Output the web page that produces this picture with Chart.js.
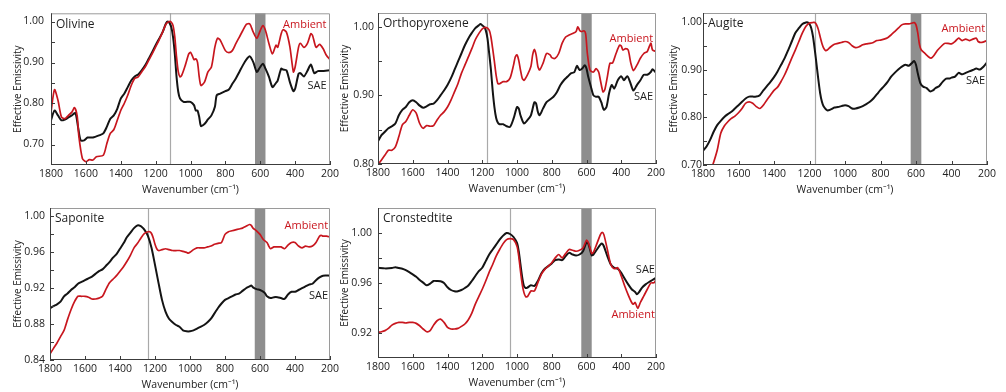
<!DOCTYPE html>
<html>
<head>
<meta charset="utf-8">
<script src="https://cdn.jsdelivr.net/npm/chart.js@4.4.1/dist/chart.umd.min.js"></script>
<style>
  html, body { margin: 0; padding: 0; background: #fff; }
  body { width: 1006px; height: 392px; position: relative; overflow: hidden; }
  .panel { position: absolute; }
</style>
</head>
<body>
<script>
// x axis (wavenumber, cm-1)
const wavenumberTicks = [1800, 1600, 1400, 1200, 1000, 800, 600, 400, 200];
const bandRange = [630, 570];

// y axis ticks
const olivineTicks = [0.70, 0.80, 0.90, 1.00];
const olivineMinor = [0.75, 0.85, 0.95];
const orthoTicks = [0.80, 0.90, 1.00];
const orthoMinor = [0.85, 0.95];
const augiteTicks = [0.70, 0.80, 0.90, 1.00];
const augiteMinor = [0.75, 0.85, 0.95];
const saponiteTicks = [0.84, 0.88, 0.92, 0.96, 1.00];
const saponiteMinor = [0.86, 0.90, 0.94, 0.98];
const cronstTicks = [0.92, 0.96, 1.00];
const cronstMinor = [0.94, 0.98];

// [wavenumber, effective emissivity]
const olivineAmbient = [[1800,0.779],[1780,0.834],[1760,0.808],[1740,0.767],[1720,0.763],[1700,0.771],[1680,0.779],[1665,0.79],[1650,0.77],[1640,0.719],[1620,0.666],[1600,0.658],[1580,0.663],[1560,0.662],[1540,0.67],[1500,0.674],[1480,0.702],[1460,0.727],[1440,0.736],[1420,0.759],[1400,0.783],[1380,0.8],[1360,0.82],[1340,0.844],[1320,0.861],[1300,0.865],[1280,0.877],[1260,0.889],[1240,0.905],[1220,0.921],[1200,0.938],[1180,0.955],[1160,0.974],[1140,0.994],[1120,1.0],[1110,0.998],[1100,0.99],[1090,0.962],[1080,0.913],[1070,0.877],[1060,0.865],[1050,0.869],[1030,0.893],[1010,0.921],[1000,0.925],[990,0.917],[980,0.907],[970,0.909],[960,0.901],[950,0.865],[940,0.844],[920,0.852],[900,0.877],[880,0.889],[860,0.938],[845,0.959],[830,0.955],[800,0.929],[780,0.924],[760,0.929],[740,0.946],[720,0.962],[700,0.978],[680,0.993],[660,0.994],[640,0.974],[620,0.959],[600,0.978],[585,0.99],[570,0.978],[550,0.946],[530,0.921],[510,0.942],[500,0.937],[480,0.97],[470,0.98],[450,0.974],[430,0.938],[410,0.877],[400,0.889],[380,0.938],[370,0.947],[350,0.937],[330,0.946],[310,0.97],[300,0.966],[280,0.937],[260,0.944],[240,0.934],[220,0.917],[200,0.907]];
const olivineSAE = [[1800,0.759],[1780,0.783],[1760,0.771],[1740,0.759],[1720,0.761],[1700,0.766],[1680,0.771],[1660,0.777],[1645,0.743],[1630,0.71],[1610,0.71],[1590,0.717],[1560,0.717],[1520,0.723],[1500,0.727],[1480,0.743],[1460,0.763],[1440,0.771],[1420,0.787],[1400,0.812],[1380,0.824],[1360,0.84],[1340,0.856],[1320,0.866],[1300,0.871],[1280,0.881],[1260,0.893],[1240,0.909],[1220,0.925],[1200,0.942],[1180,0.958],[1160,0.974],[1140,0.996],[1130,1.0],[1120,0.996],[1110,0.986],[1100,0.962],[1090,0.921],[1080,0.865],[1070,0.828],[1060,0.812],[1040,0.804],[1020,0.804],[1000,0.804],[980,0.796],[970,0.783],[960,0.783],[950,0.767],[940,0.745],[920,0.75],[900,0.761],[880,0.771],[860,0.792],[850,0.82],[830,0.824],[800,0.83],[780,0.834],[760,0.848],[740,0.861],[720,0.877],[700,0.893],[680,0.907],[660,0.915],[640,0.901],[620,0.877],[600,0.889],[585,0.897],[570,0.885],[550,0.865],[530,0.84],[510,0.85],[500,0.856],[480,0.885],[470,0.883],[450,0.881],[430,0.852],[410,0.83],[400,0.836],[380,0.873],[370,0.874],[350,0.866],[330,0.879],[310,0.895],[290,0.874],[270,0.879],[250,0.879],[200,0.881]];

const orthoAmbient = [[1800,0.799],[1780,0.806],[1760,0.813],[1740,0.82],[1720,0.82],[1700,0.825],[1680,0.84],[1660,0.857],[1640,0.862],[1620,0.871],[1600,0.879],[1580,0.874],[1560,0.859],[1540,0.852],[1520,0.856],[1500,0.855],[1480,0.856],[1460,0.864],[1440,0.871],[1420,0.876],[1400,0.883],[1380,0.893],[1360,0.905],[1340,0.917],[1320,0.932],[1300,0.944],[1280,0.956],[1260,0.968],[1240,0.981],[1220,0.99],[1200,0.997],[1180,0.999],[1160,0.995],[1150,0.985],[1140,0.968],[1130,0.949],[1120,0.929],[1110,0.917],[1100,0.917],[1080,0.92],[1060,0.92],[1040,0.925],[1020,0.944],[1010,0.956],[1000,0.959],[990,0.951],[980,0.937],[970,0.925],[960,0.922],[940,0.93],[920,0.942],[910,0.959],[900,0.967],[890,0.959],[880,0.942],[870,0.937],[850,0.947],[830,0.961],[810,0.959],[800,0.955],[780,0.954],[760,0.961],[740,0.976],[720,0.985],[700,0.988],[680,0.99],[660,0.993],[650,1.0],[640,0.995],[630,0.993],[615,0.994],[605,0.99],[595,0.961],[580,0.937],[560,0.934],[545,0.939],[530,0.934],[520,0.922],[505,0.905],[495,0.908],[480,0.927],[465,0.947],[450,0.947],[430,0.961],[410,0.973],[400,0.972],[390,0.966],[375,0.968],[360,0.966],[345,0.947],[330,0.936],[310,0.944],[290,0.954],[270,0.961],[250,0.964],[230,0.976],[220,0.966],[200,0.964]];
const orthoSAE = [[1800,0.833],[1780,0.842],[1760,0.847],[1740,0.852],[1720,0.855],[1700,0.859],[1680,0.871],[1660,0.879],[1640,0.883],[1620,0.89],[1600,0.893],[1580,0.89],[1560,0.885],[1540,0.882],[1520,0.884],[1500,0.887],[1480,0.888],[1460,0.893],[1440,0.9],[1420,0.907],[1400,0.915],[1380,0.925],[1360,0.937],[1340,0.949],[1320,0.961],[1300,0.973],[1280,0.983],[1260,0.991],[1240,0.998],[1220,1.002],[1210,1.004],[1200,1.002],[1190,1.0],[1180,0.995],[1170,0.983],[1160,0.961],[1150,0.937],[1140,0.907],[1130,0.883],[1120,0.867],[1110,0.86],[1100,0.858],[1080,0.858],[1060,0.855],[1040,0.854],[1020,0.866],[1000,0.883],[990,0.881],[980,0.871],[960,0.859],[940,0.864],[920,0.871],[900,0.89],[890,0.888],[880,0.876],[870,0.871],[850,0.881],[830,0.89],[810,0.894],[790,0.898],[770,0.905],[750,0.915],[730,0.922],[710,0.927],[690,0.932],[670,0.934],[655,0.943],[640,0.937],[625,0.939],[610,0.944],[600,0.939],[590,0.927],[575,0.913],[560,0.9],[545,0.898],[530,0.898],[515,0.89],[500,0.879],[485,0.883],[470,0.903],[455,0.915],[440,0.91],[420,0.922],[400,0.928],[385,0.922],[365,0.928],[350,0.92],[330,0.907],[310,0.915],[290,0.922],[270,0.93],[250,0.93],[230,0.934],[220,0.938],[200,0.933]];

const augiteAmbient = [[1765,0.68],[1745,0.70],[1720,0.731],[1700,0.767],[1680,0.782],[1660,0.791],[1640,0.798],[1620,0.803],[1600,0.81],[1580,0.819],[1560,0.83],[1540,0.833],[1520,0.83],[1500,0.823],[1480,0.819],[1460,0.826],[1440,0.837],[1420,0.847],[1400,0.857],[1380,0.864],[1360,0.876],[1340,0.89],[1320,0.907],[1300,0.925],[1280,0.942],[1260,0.96],[1240,0.978],[1220,0.992],[1200,0.999],[1180,1.0],[1170,1.0],[1160,0.995],[1150,0.985],[1140,0.97],[1130,0.956],[1120,0.946],[1110,0.941],[1100,0.942],[1080,0.949],[1060,0.954],[1040,0.956],[1020,0.958],[1000,0.96],[980,0.958],[960,0.951],[940,0.947],[920,0.949],[900,0.953],[880,0.955],[860,0.956],[840,0.958],[820,0.962],[800,0.963],[780,0.965],[760,0.968],[740,0.974],[720,0.981],[700,0.988],[680,0.995],[660,0.997],[640,0.997],[620,0.999],[610,1.0],[600,0.995],[590,0.978],[580,0.953],[570,0.942],[550,0.935],[530,0.928],[515,0.925],[500,0.93],[480,0.941],[460,0.949],[440,0.956],[420,0.956],[400,0.955],[380,0.96],[360,0.967],[340,0.962],[320,0.965],[300,0.962],[280,0.965],[260,0.967],[250,0.96],[230,0.958],[200,0.962]];
const augiteSAE = [[1800,0.73],[1780,0.739],[1760,0.753],[1740,0.77],[1720,0.784],[1700,0.793],[1680,0.801],[1660,0.807],[1640,0.812],[1620,0.819],[1600,0.826],[1580,0.833],[1560,0.84],[1540,0.844],[1520,0.844],[1500,0.844],[1480,0.847],[1460,0.857],[1440,0.866],[1420,0.875],[1400,0.885],[1380,0.897],[1360,0.911],[1340,0.925],[1320,0.942],[1300,0.96],[1280,0.978],[1260,0.988],[1240,0.997],[1220,1.0],[1210,1.0],[1200,0.997],[1190,0.988],[1180,0.97],[1170,0.942],[1160,0.911],[1150,0.879],[1140,0.851],[1130,0.833],[1120,0.823],[1100,0.815],[1080,0.817],[1060,0.821],[1040,0.822],[1020,0.824],[1000,0.826],[980,0.824],[960,0.819],[940,0.819],[920,0.821],[900,0.824],[880,0.828],[860,0.833],[840,0.84],[820,0.849],[800,0.858],[780,0.866],[760,0.875],[740,0.886],[720,0.894],[700,0.901],[680,0.907],[660,0.911],[640,0.909],[620,0.916],[610,0.919],[600,0.911],[590,0.893],[575,0.872],[560,0.865],[540,0.862],[520,0.855],[505,0.857],[490,0.862],[470,0.866],[450,0.875],[430,0.882],[410,0.882],[400,0.884],[380,0.886],[360,0.894],[340,0.891],[320,0.894],[300,0.897],[280,0.9],[260,0.903],[240,0.901],[220,0.907],[200,0.916]];

const saponiteAmbient = [[1800,0.8467],[1780,0.853],[1760,0.859],[1740,0.866],[1720,0.873],[1700,0.885],[1680,0.896],[1660,0.905],[1640,0.911],[1620,0.911],[1600,0.911],[1580,0.91],[1560,0.908],[1540,0.908],[1520,0.909],[1500,0.911],[1480,0.919],[1460,0.926],[1440,0.93],[1420,0.934],[1400,0.939],[1380,0.944],[1360,0.95],[1340,0.957],[1320,0.965],[1300,0.97],[1280,0.976],[1260,0.981],[1240,0.983],[1230,0.983],[1220,0.981],[1210,0.976],[1200,0.969],[1190,0.964],[1180,0.962],[1160,0.963],[1140,0.964],[1120,0.963],[1100,0.962],[1080,0.962],[1060,0.962],[1040,0.961],[1020,0.96],[1010,0.959],[1000,0.96],[980,0.963],[960,0.965],[940,0.965],[920,0.965],[900,0.966],[880,0.967],[860,0.969],[840,0.97],[820,0.971],[800,0.98],[780,0.983],[760,0.984],[740,0.985],[720,0.986],[700,0.987],[680,0.989],[660,0.991],[650,0.99],[640,0.987],[620,0.984],[600,0.98],[580,0.974],[560,0.971],[550,0.967],[540,0.964],[520,0.966],[500,0.966],[480,0.966],[460,0.964],[440,0.968],[420,0.971],[400,0.971],[380,0.967],[360,0.965],[340,0.967],[320,0.966],[300,0.967],[280,0.971],[260,0.978],[250,0.979],[240,0.978],[220,0.978],[200,0.977]];
const saponiteSAE = [[1800,0.8976],[1780,0.9],[1760,0.902],[1740,0.905],[1720,0.911],[1700,0.914],[1680,0.918],[1660,0.921],[1640,0.925],[1620,0.927],[1600,0.929],[1580,0.931],[1560,0.933],[1540,0.936],[1520,0.939],[1500,0.941],[1480,0.945],[1460,0.949],[1440,0.954],[1420,0.958],[1400,0.964],[1380,0.97],[1360,0.977],[1340,0.982],[1320,0.987],[1300,0.99],[1290,0.99],[1280,0.989],[1260,0.985],[1240,0.978],[1220,0.965],[1200,0.946],[1180,0.926],[1160,0.907],[1140,0.894],[1120,0.886],[1100,0.882],[1080,0.879],[1060,0.877],[1040,0.873],[1020,0.872],[1000,0.872],[980,0.873],[960,0.875],[940,0.877],[920,0.879],[900,0.882],[880,0.886],[860,0.892],[840,0.898],[820,0.903],[800,0.907],[780,0.909],[760,0.911],[740,0.913],[720,0.914],[700,0.917],[680,0.92],[660,0.922],[650,0.923],[640,0.921],[620,0.919],[600,0.918],[580,0.916],[570,0.914],[560,0.911],[540,0.909],[520,0.91],[500,0.91],[480,0.909],[460,0.908],[440,0.913],[420,0.916],[400,0.916],[380,0.918],[360,0.92],[340,0.922],[320,0.924],[300,0.925],[280,0.929],[260,0.932],[240,0.934],[200,0.934]];

const cronstAmbient = [[1800,0.9205],[1780,0.921],[1760,0.9219],[1740,0.9237],[1720,0.9263],[1700,0.9277],[1680,0.9285],[1660,0.9285],[1640,0.928],[1620,0.9285],[1600,0.9285],[1580,0.9277],[1560,0.9258],[1540,0.9232],[1520,0.921],[1500,0.9219],[1480,0.9263],[1460,0.9298],[1440,0.9311],[1420,0.9285],[1400,0.9245],[1380,0.9232],[1360,0.9232],[1340,0.9237],[1320,0.9253],[1300,0.9272],[1280,0.9306],[1260,0.9359],[1240,0.9431],[1220,0.9491],[1200,0.955],[1180,0.9616],[1160,0.9687],[1140,0.9748],[1120,0.9815],[1100,0.9868],[1080,0.9915],[1060,0.9947],[1040,0.9955],[1020,0.9947],[1000,0.9894],[990,0.9815],[980,0.9695],[970,0.959],[960,0.9523],[950,0.9491],[940,0.9491],[920,0.9536],[900,0.9536],[880,0.9603],[860,0.9669],[840,0.9709],[820,0.9735],[800,0.9762],[780,0.9801],[760,0.9828],[740,0.9801],[720,0.9836],[700,0.9868],[680,0.9862],[660,0.9854],[640,0.9862],[620,0.9881],[600,0.9942],[590,0.9926],[580,0.9881],[570,0.9836],[560,0.9846],[540,0.9915],[520,0.9987],[510,1.0005],[500,0.9987],[480,0.9868],[460,0.9748],[440,0.9714],[420,0.9722],[400,0.9656],[380,0.9576],[360,0.9505],[340,0.9444],[330,0.943],[320,0.9444],[305,0.9397],[290,0.9444],[270,0.9497],[250,0.955],[230,0.96],[210,0.9603],[200,0.9629]];
const cronstSAE = [[1800,0.9722],[1760,0.9717],[1720,0.972],[1700,0.9727],[1680,0.972],[1660,0.9714],[1640,0.9703],[1620,0.9687],[1600,0.9669],[1580,0.965],[1560,0.9624],[1540,0.9603],[1520,0.9582],[1500,0.9595],[1480,0.9616],[1460,0.9616],[1440,0.9614],[1420,0.96],[1400,0.9566],[1380,0.9544],[1360,0.9534],[1340,0.9534],[1320,0.9544],[1300,0.956],[1280,0.958],[1260,0.9616],[1240,0.9656],[1220,0.9695],[1200,0.9722],[1180,0.9775],[1160,0.9828],[1140,0.9868],[1120,0.9907],[1100,0.9947],[1080,0.9979],[1060,1.0],[1040,0.9992],[1020,0.9968],[1000,0.9921],[990,0.9854],[980,0.9748],[970,0.9645],[960,0.9576],[950,0.956],[940,0.9563],[920,0.9582],[900,0.9576],[880,0.9616],[860,0.9677],[840,0.9714],[820,0.9735],[800,0.9756],[780,0.9783],[760,0.9788],[740,0.9783],[720,0.9815],[700,0.9841],[680,0.9828],[660,0.982],[640,0.9828],[620,0.9854],[600,0.9926],[590,0.9915],[580,0.9868],[570,0.982],[560,0.9828],[540,0.9868],[520,0.9907],[510,0.9915],[500,0.9894],[480,0.9815],[460,0.9748],[440,0.9722],[420,0.9714],[400,0.9682],[380,0.9634],[360,0.9589],[340,0.955],[320,0.9528],[310,0.951],[300,0.9523],[280,0.9563],[260,0.9589],[240,0.9608],[220,0.9624],[200,0.9642]];

const RED = '#c8161e';
const BLACK = '#141414';
const FONT = '"Open Sans", "Noto Sans", sans-serif';

Chart.defaults.font.family = FONT;
Chart.defaults.color = '#222';
Chart.defaults.animation = false;

// plot area in page pixels: left, top, width, height
const panels = [
  { name: 'Olivine', plot: [51, 13, 279, 152], yMin: 0.65, yMax: 1.02, ticks: olivineTicks, minor: olivineMinor,
    line: 1117, amb: olivineAmbient, sae: olivineSAE, ambAt: [220, 0.993], saeAt: [220, 0.842], pad: 7, titlePad: 12 },
  { name: 'Orthopyroxene', plot: [378, 13, 278, 151], yMin: 0.80, yMax: 1.02, ticks: orthoTicks, minor: orthoMinor,
    line: 1173, amb: orthoAmbient, sae: orthoSAE, ambAt: [217, 0.983], saeAt: [217, 0.898], pad: 4, titlePad: 12 },
  { name: 'Augite', plot: [703, 13, 284, 152], yMin: 0.70, yMax: 1.02, ticks: augiteTicks, minor: augiteMinor,
    line: 1168, amb: augiteAmbient, sae: augiteSAE, ambAt: [211, 0.987], saeAt: [211, 0.877], pad: 1, titlePad: 16 },
  { name: 'Saponite', plot: [50, 208, 280, 152], yMin: 0.84, yMax: 1.0094, ticks: saponiteTicks, minor: saponiteMinor,
    line: 1238, amb: saponiteAmbient, sae: saponiteSAE, ambAt: [211, 0.99], saeAt: [211, 0.9115], pad: 5, titlePad: 13 },
  { name: 'Cronstedtite', plot: [378, 208, 278, 150], yMin: 0.90, yMax: 1.02, ticks: cronstTicks, minor: cronstMinor,
    line: 1041, amb: cronstAmbient, sae: cronstSAE, ambAt: [206, 0.9343], saeAt: [206, 0.9709], pad: 6, titlePad: 12 }
];

const YW = 51, XH = 31, PT = 13, PR = 14;

const decor = {
  id: 'decor',
  beforeDatasetsDraw(chart, args, o) {
    const { ctx, chartArea: a, scales: { x } } = chart;
    ctx.save();
    const b0 = x.getPixelForValue(bandRange[0]), b1 = x.getPixelForValue(bandRange[1]);
    ctx.fillStyle = '#8e8e8e';
    ctx.fillRect(Math.min(b0, b1), a.top, Math.abs(b1 - b0), a.bottom - a.top);
    const vx = Math.round(x.getPixelForValue(o.line)) + 0.5;
    ctx.strokeStyle = '#a9a9a9';
    ctx.lineWidth = 1.2;
    ctx.beginPath(); ctx.moveTo(vx, a.top); ctx.lineTo(vx, a.bottom); ctx.stroke();
    ctx.restore();
  },
  afterDatasetsDraw(chart, args, o) {
    const { ctx, chartArea: a, scales: { x, y } } = chart;
    ctx.save();
    // frame
    ctx.lineWidth = 1;
    ctx.strokeStyle = '#9a9a9a';
    ctx.beginPath();
    ctx.moveTo(a.left, a.top + 0.5); ctx.lineTo(a.right - 0.5, a.top + 0.5); ctx.lineTo(a.right - 0.5, a.bottom);
    ctx.stroke();
    ctx.strokeStyle = '#3c3c3c';
    ctx.beginPath();
    ctx.moveTo(a.left + 0.5, a.top); ctx.lineTo(a.left + 0.5, a.bottom - 0.5); ctx.lineTo(a.right, a.bottom - 0.5);
    ctx.stroke();
    // inward ticks
    ctx.beginPath();
    wavenumberTicks.forEach(v => {
      const px = Math.round(x.getPixelForValue(v)) + 0.5;
      ctx.moveTo(px, a.bottom); ctx.lineTo(px, a.bottom - 4);
    });
    o.ticks.concat(o.minor).forEach(v => {
      const py = Math.round(y.getPixelForValue(v)) + 0.5;
      ctx.moveTo(a.left, py); ctx.lineTo(a.left + 4, py);
    });
    ctx.stroke();
    // texts
    ctx.textBaseline = 'middle';
    ctx.fillStyle = '#1e1e1e';
    ctx.font = '12px ' + FONT;
    ctx.textAlign = 'left';
    ctx.fillText(o.name, a.left + 5, a.top + 11);
    ctx.font = '11px ' + FONT;
    ctx.textAlign = 'right';
    ctx.fillStyle = RED;
    ctx.fillText('Ambient', x.getPixelForValue(o.ambAt[0]), y.getPixelForValue(o.ambAt[1]));
    ctx.fillStyle = '#1e1e1e';
    ctx.fillText('SAE', x.getPixelForValue(o.saeAt[0]), y.getPixelForValue(o.saeAt[1]));
    ctx.restore();
  }
};

const toXY = arr => arr.map(p => ({ x: p[0], y: p[1] }));

panels.forEach(p => {
  const [L, T, W, H] = p.plot;
  const div = document.createElement('div');
  div.className = 'panel';
  div.style.left = (L - YW) + 'px';
  div.style.top = (T - PT) + 'px';
  div.style.width = (W + YW + PR) + 'px';
  div.style.height = (H + PT + XH) + 'px';
  const canvas = document.createElement('canvas');
  div.appendChild(canvas);
  document.body.appendChild(div);

  new Chart(canvas, {
    type: 'line',
    data: {
      datasets: [
        { label: 'Ambient', data: toXY(p.amb), borderColor: RED, borderWidth: 1.7, pointRadius: 0, tension: 0.25 },
        { label: 'SAE', data: toXY(p.sae), borderColor: BLACK, borderWidth: 2, pointRadius: 0, tension: 0.25 }
      ]
    },
    options: {
      responsive: true,
      maintainAspectRatio: false,
      layout: { padding: { top: PT, right: PR, left: 0, bottom: 0 } },
      plugins: {
        legend: { display: false },
        tooltip: { enabled: false },
        decor: { name: p.name, line: p.line, ticks: p.ticks, minor: p.minor, ambAt: p.ambAt, saeAt: p.saeAt }
      },
      scales: {
        x: {
          type: 'linear', reverse: true, min: 200, max: 1800,
          afterBuildTicks: s => { s.ticks = wavenumberTicks.map(v => ({ value: v })); },
          afterFit: s => { s.height = XH; },
          grid: { display: false, drawTicks: false },
          border: { display: false },
          ticks: { padding: 3, maxRotation: 0, autoSkip: false, font: { size: 10.5 }, callback: v => String(v) },
          title: { display: true, text: 'Wavenumber (cm⁻¹)', font: { size: 10.5 }, color: '#222', padding: { top: 0, bottom: 0 } }
        },
        y: {
          min: p.yMin, max: p.yMax,
          afterBuildTicks: s => { s.ticks = p.ticks.map(v => ({ value: v })); },
          afterFit: s => { s.width = YW; },
          grid: { display: false, drawTicks: false },
          border: { display: false },
          ticks: { padding: p.pad, font: { size: 10.5 }, callback: v => v.toFixed(2) },
          title: { display: true, text: 'Effective Emissivity', font: { size: 10 }, color: '#222', padding: { top: p.titlePad, bottom: 0 } }
        }
      }
    },
    plugins: [decor]
  });
});
</script>
</body>
</html>
